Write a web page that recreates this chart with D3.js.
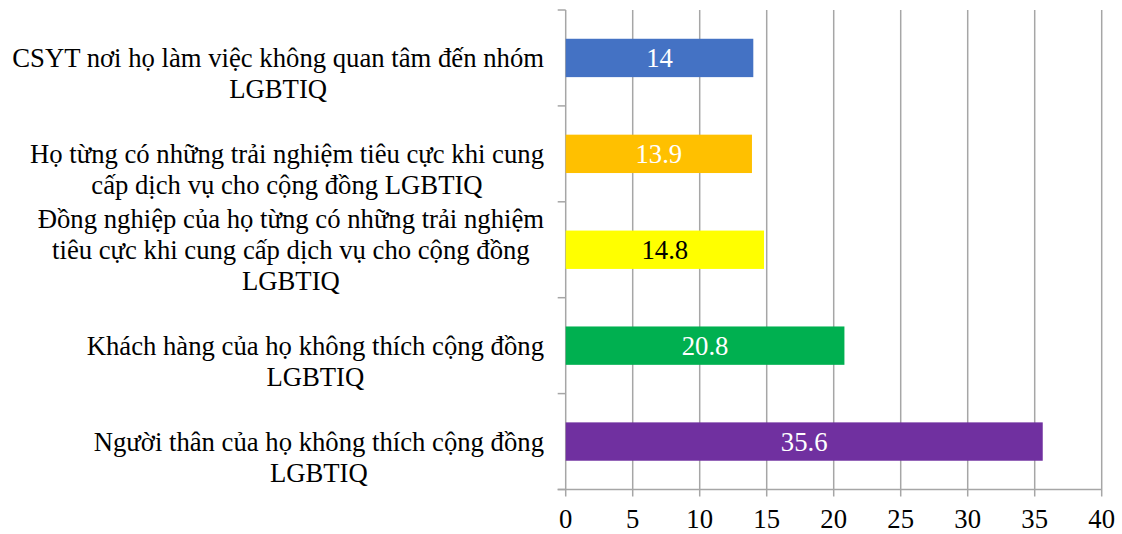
<!DOCTYPE html>
<html><head><meta charset="utf-8">
<script src="https://cdn.jsdelivr.net/npm/d3@7"></script>
<style>body{margin:0;background:#fff}svg{display:block}text{font-family:"Liberation Serif","Times New Roman",Times,serif}</style>
</head><body>
<script>
const categories = [
  ["CSYT nơi họ làm việc không quan tâm đến nhóm", "LGBTIQ"],
  ["Họ từng có những trải nghiệm tiêu cực khi cung", "cấp dịch vụ cho cộng đồng LGBTIQ"],
  ["Đồng nghiệp của họ từng có những trải nghiệm", "tiêu cực khi cung cấp dịch vụ cho cộng đồng", "LGBTIQ"],
  ["Khách hàng của họ không thích cộng đồng", "LGBTIQ"],
  ["Người thân của họ không thích cộng đồng", "LGBTIQ"]
];
const values = [14, 13.9, 14.8, 20.8, 35.6];
const colors = ["#4472C4", "#FFC000", "#FFFF00", "#00B050", "#7030A0"];
const labelColors = ["#fff", "#fff", "#000", "#fff", "#fff"];
const xTicks = [0, 5, 10, 15, 20, 25, 30, 35, 40];

const W = 1122, H = 534;
const pL = 565.7, pR = 1101.7, pT = 10, pB = 489.5;
const fs = 26.7;

const svg = d3.select("body").append("svg").attr("width", W).attr("height", H);
const x = d3.scaleLinear().domain([0, 40]).range([pL, pR]);
const y = d3.scaleBand().domain(d3.range(categories.length)).range([pT, pB]).paddingInner(0.6).paddingOuter(0.3);
const yb = d3.scaleBand().domain(d3.range(categories.length)).range([pT, pB]);

const grid = "#A6A6A6";
svg.append("g").selectAll("line").data(xTicks).join("line")
  .attr("x1", d => x(d)).attr("x2", d => x(d))
  .attr("y1", pT).attr("y2", pB + 7)
  .attr("stroke", grid).attr("stroke-width", 1.5);
svg.append("line").attr("x1", pL - 8).attr("x2", pR).attr("y1", pB).attr("y2", pB)
  .attr("stroke", grid).attr("stroke-width", 1.5);
const bounds = d3.range(categories.length + 1).map(i => pT + i * yb.bandwidth());
svg.append("g").selectAll("line").data(bounds).join("line")
  .attr("x1", pL - 8).attr("x2", pL).attr("y1", d => d).attr("y2", d => d)
  .attr("stroke", grid).attr("stroke-width", 1.5);

svg.append("g").selectAll("text").data(xTicks).join("text")
  .attr("x", d => x(d)).attr("y", 528)
  .attr("text-anchor", "middle").attr("font-size", fs)
  .attr("fill", "#000").text(d => d);

svg.append("g").selectAll("rect").data(values).join("rect")
  .attr("x", x(0)).attr("y", (d, i) => y(i))
  .attr("width", d => x(d) - x(0)).attr("height", y.bandwidth())
  .attr("fill", (d, i) => colors[i]);

svg.append("g").selectAll("text").data(values).join("text")
  .attr("x", d => (x(0) + x(d)) / 2).attr("y", (d, i) => y(i) + y.bandwidth() / 2)
  .attr("dy", "0.35em").attr("text-anchor", "middle")
  .attr("font-size", fs)
  .attr("fill", (d, i) => labelColors[i]).text(d => d);

const lineH = 31, rightEdge = 544;
categories.forEach((lines, i) => {
  const g = svg.append("g");
  const cy = yb(i) + yb.bandwidth() / 2;
  const off = Math.floor((lines.length - 1) / 2);
  const texts = g.selectAll("text").data(lines).join("text")
    .attr("y", (d, j) => cy + (j - off) * lineH).attr("dy", "0.35em")
    .attr("text-anchor", "middle").attr("font-size", fs)
    .attr("fill", "#000").text(d => d);
  let maxW = 0;
  texts.each(function() { maxW = Math.max(maxW, this.getComputedTextLength()); });
  texts.attr("x", rightEdge - maxW / 2);
});
</script>
</body></html>
